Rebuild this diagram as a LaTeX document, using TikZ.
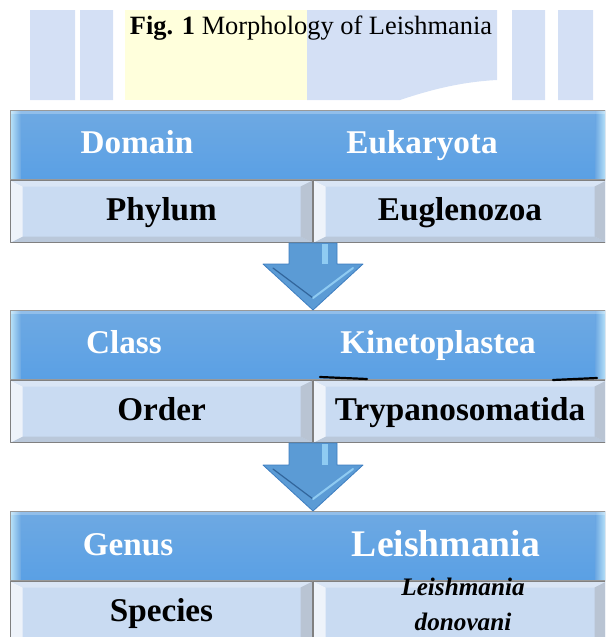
\documentclass[tikz,border=0pt]{standalone}
\usepackage{fontspec}
\setmainfont{Liberation Serif}
\usepackage{xcolor}
\usepackage{tikz}
\usetikzlibrary{calc}
\definecolor{hdtop}{HTML}{6EA9E3}
\definecolor{hdbot}{HTML}{5AA0E4}
\definecolor{hdedge}{HTML}{B8E2F8}
\definecolor{lowfill}{HTML}{C9DBF2}
\definecolor{bevlt}{HTML}{EEF3FA}
\definecolor{bevtp}{HTML}{D9E5F5}
\definecolor{bevdk}{HTML}{B9C4D3}
\definecolor{bevbt}{HTML}{BAC8DA}
\definecolor{arrmid}{HTML}{5B9BD5}
\definecolor{arrdk}{HTML}{3E7EC1}
\definecolor{arrlt}{HTML}{8FCBF2}
\definecolor{wmblue}{HTML}{D4E0F5}
\definecolor{wmyel}{HTML}{FFFFDC}

% block arrow from a box bottom down to the next header
\newcommand{\taxarrow}[2]{%
  \coordinate (at) at (#1);
  \coordinate (ah) at (#1 |- #2);
  \fill[arrmid,draw=arrdk,line width=.4pt]
    ($(at)+(-24,0)$)--($(ah)+(-24,-46)$)--($(ah)+(-50,-46)$)--(ah)
    --($(ah)+(50,-46)$)--($(ah)+(24,-46)$)--($(at)+(24,0)$)--cycle;
  \fill[arrlt]($(at)+(9,1)$)rectangle($(ah)+(15,-46)$);
  \draw[arrdk!80!black,line width=.6pt]($(ah)+(-40,-42)$)--($(ah)+(0,-12)$);
  \draw[arrlt,line width=1pt]($(ah)+(0,-12)$)--($(ah)+(40,-42)$);
}

\begin{document}
\begin{tikzpicture}[x=.5pt,y=-.5pt,line cap=round,line join=round,
  headbar/.style={draw=black!40,line width=.5pt,top color=hdtop,bottom color=hdbot,
    minimum width=297.5pt,minimum height=34.5pt,inner sep=0pt,anchor=north west,
    path picture={
      \coordinate (pa) at (path picture bounding box.north west);
      \coordinate (pb) at (path picture bounding box.south east);
      \shade[left color=hdedge,right color=hdtop](pa)rectangle($(pa|-pb)+(5pt,0)$);
      \shade[left color=hdtop,right color=hdedge]($(pb|-pa)+(-5pt,0)$)rectangle(pb);
      \fill[white,opacity=.25](pa)rectangle($(pb|-pa)+(0,-1.5pt)$);}},
  lowbox/.style={draw=black!50,line width=.5pt,fill=lowfill,
    minimum width=151pt,minimum height=31pt,inner sep=0pt,anchor=north west,
    font=\fontsize{16.6}{19}\selectfont\bfseries,text height=11pt,text depth=2pt,
    path picture={
      \coordinate (pa) at (path picture bounding box.north west);
      \coordinate (pb) at (path picture bounding box.south east);
      \fill[bevtp](pa)--(pb|-pa)--($(pb|-pa)+(-6pt,-3pt)$)--($(pa)+(6pt,-3pt)$)--cycle;
      \fill[bevbt](pb)--(pa|-pb)--($(pa|-pb)+(6pt,3pt)$)--($(pb)+(-6pt,3pt)$)--cycle;
      \fill[bevlt](pa)--(pa|-pb)--($(pa|-pb)+(6pt,3pt)$)--($(pa)+(6pt,-3pt)$)--cycle;
      \fill[bevdk](pb|-pa)--(pb)--($(pb)+(-6pt,3pt)$)--($(pb|-pa)+(-6pt,-3pt)$)--cycle;}},
  valbox/.style={lowbox,minimum width=146.5pt},
  headtxt/.style={anchor=base,text=white,font=\fontsize{16.6}{19}\selectfont\bfseries}]
\useasboundingbox(0,0)rectangle(605,637);
\clip(0,0)rectangle(605,637);
% faded page behind the title
\fill[wmblue](30,10)rectangle(75,100) (80,10)rectangle(113,100)
  (512,10)rectangle(545,100) (558,10)rectangle(593,100);
\fill[wmyel](125,10)rectangle(307,100);
\fill[wmblue](307,10)--(497,10)--(497,80)..controls(460,82)and(430,90)..(400,100)--(307,100)--cycle;
\node[anchor=base,font=\fontsize{13.2}{16}\selectfont](title)at(311,34)
  {\textbf{Fig. 1} Morphology of Leishmania};
% three bands
\node[headbar](dom)at(10,110){};
\node[lowbox](phy)at(dom.south west){Phylum};
\node[valbox](phyv)at(phy.north east){Euglenozoa};
\node[headbar](cls)at(10,310){};
\node[lowbox](ord)at(cls.south west){Order};
\node[valbox](ordv)at(ord.north east){Trypanosomatida};
\node[headbar](gen)at(10,511){};
\node[lowbox](spc)at(gen.south west){Species};
\node[valbox](spcv)at(spc.north east){};
\node[anchor=north,align=center,inner sep=0pt,
  font=\fontsize{12.6}{17.5}\selectfont\bfseries\itshape](don)at(463,578)
  {Leishmania\\donovani};
\node[headtxt](domt)at(137,153){Domain};
\node[headtxt](domv)at(422,153){Eukaryota};
\node[headtxt](clst)at(124,353){Class};
\node[headtxt](clsv)at(438,353){Kinetoplastea};
\node[headtxt](gent)at(128,555){Genus};
\node[headtxt,font=\fontsize{18.8}{22}\selectfont\bfseries](genv)at(446,556){Leishmania};
\draw[line width=1.1pt](320,377)--(367,379) (553,380)--(597,378);
\taxarrow{phy.south east}{cls.north}
\taxarrow{ord.south east}{gen.north}
\end{tikzpicture}
\end{document}
